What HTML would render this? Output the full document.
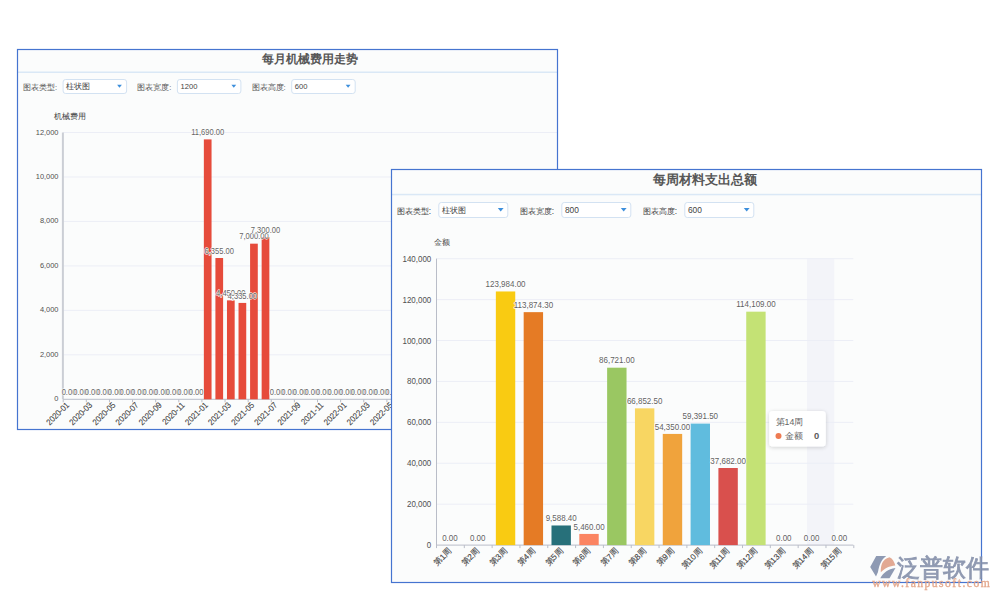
<!DOCTYPE html><html><head><meta charset="utf-8"><style>html,body{margin:0;padding:0;background:#fff;width:1000px;height:600px;overflow:hidden}svg{display:block}text{font-family:"Liberation Sans", sans-serif}.ax{stroke:#444;stroke-width:0.12px}</style></head><body>
<svg width="1000" height="600" viewBox="0 0 1000 600">
<defs><clipPath id="c1"><rect x="18" y="50" width="539" height="379"/></clipPath><clipPath id="c2"><rect x="392" y="170" width="589" height="412"/></clipPath><filter id="sh" x="-30%" y="-30%" width="160%" height="160%"><feGaussianBlur in="SourceAlpha" stdDeviation="2"/><feOffset dx="0" dy="1"/><feComponentTransfer><feFuncA type="linear" slope="0.18"/></feComponentTransfer><feMerge><feMergeNode/><feMergeNode in="SourceGraphic"/></feMerge></filter></defs>
<rect x="17.5" y="49.5" width="540" height="380" fill="#fbfcfc" stroke="none"/>
<g clip-path="url(#c1)">
<rect x="18" y="71.5" width="539" height="1.5" fill="#dae8f6"/>
<text x="310" y="63.3" font-size="12.2" font-weight="bold" fill="#575757" text-anchor="middle">每月机械费用走势</text>
<text x="23.0" y="89.8" font-size="7.6" fill="#555">图表类型:</text>
<rect x="63.1" y="79.5" width="63.5" height="14" rx="2.5" fill="#fff" stroke="#d3e2f2" stroke-width="1"/>
<text x="66.2" y="89.29" font-size="7.6" fill="#444">柱状图</text>
<path d="M117.10 84.80 L121.90 84.80 L119.50 87.80 Z" fill="#3d8fdc"/>
<text x="137.3" y="89.8" font-size="7.6" fill="#555">图表宽度:</text>
<rect x="177.4" y="79.5" width="63.5" height="14" rx="2.5" fill="#fff" stroke="#d3e2f2" stroke-width="1"/>
<text x="180.5" y="89.29" font-size="7.6" fill="#444">1200</text>
<path d="M231.40 84.80 L236.20 84.80 L233.80 87.80 Z" fill="#3d8fdc"/>
<text x="251.6" y="89.8" font-size="7.6" fill="#555">图表高度:</text>
<rect x="291.7" y="79.5" width="63.5" height="14" rx="2.5" fill="#fff" stroke="#d3e2f2" stroke-width="1"/>
<text x="294.8" y="89.29" font-size="7.6" fill="#444">600</text>
<path d="M345.70 84.80 L350.50 84.80 L348.10 87.80 Z" fill="#3d8fdc"/>
<text x="53.8" y="118.9" font-size="7.5" fill="#444">机械费用</text>
<text transform="translate(58.5,401.30) scale(0.92,1)" x="0" y="0" font-size="8.1" fill="#505050" text-anchor="end">0</text>
<line x1="63.2" y1="354.83" x2="557" y2="354.83" stroke="#eceef6" stroke-width="1"/>
<text transform="translate(58.5,356.83) scale(0.92,1)" x="0" y="0" font-size="8.1" fill="#505050" text-anchor="end">2,000</text>
<line x1="63.2" y1="310.37" x2="557" y2="310.37" stroke="#eceef6" stroke-width="1"/>
<text transform="translate(58.5,312.37) scale(0.92,1)" x="0" y="0" font-size="8.1" fill="#505050" text-anchor="end">4,000</text>
<line x1="63.2" y1="265.90" x2="557" y2="265.90" stroke="#eceef6" stroke-width="1"/>
<text transform="translate(58.5,267.90) scale(0.92,1)" x="0" y="0" font-size="8.1" fill="#505050" text-anchor="end">6,000</text>
<line x1="63.2" y1="221.43" x2="557" y2="221.43" stroke="#eceef6" stroke-width="1"/>
<text transform="translate(58.5,223.43) scale(0.92,1)" x="0" y="0" font-size="8.1" fill="#505050" text-anchor="end">8,000</text>
<line x1="63.2" y1="176.97" x2="557" y2="176.97" stroke="#eceef6" stroke-width="1"/>
<text transform="translate(58.5,178.97) scale(0.92,1)" x="0" y="0" font-size="8.1" fill="#505050" text-anchor="end">10,000</text>
<line x1="63.2" y1="132.50" x2="557" y2="132.50" stroke="#eceef6" stroke-width="1"/>
<text transform="translate(58.5,134.50) scale(0.92,1)" x="0" y="0" font-size="8.1" fill="#505050" text-anchor="end">12,000</text>
<line x1="62.9" y1="132.5" x2="62.9" y2="399.3" stroke="#cbced5" stroke-width="2"/>
<line x1="63.2" y1="399.3" x2="557" y2="399.3" stroke="#b9bdc8" stroke-width="1"/>
<line x1="63.20" y1="399.3" x2="63.20" y2="402.3" stroke="#b9bdc8" stroke-width="1"/>
<line x1="86.32" y1="399.3" x2="86.32" y2="402.3" stroke="#b9bdc8" stroke-width="1"/>
<line x1="109.44" y1="399.3" x2="109.44" y2="402.3" stroke="#b9bdc8" stroke-width="1"/>
<line x1="132.56" y1="399.3" x2="132.56" y2="402.3" stroke="#b9bdc8" stroke-width="1"/>
<line x1="155.68" y1="399.3" x2="155.68" y2="402.3" stroke="#b9bdc8" stroke-width="1"/>
<line x1="178.80" y1="399.3" x2="178.80" y2="402.3" stroke="#b9bdc8" stroke-width="1"/>
<line x1="201.92" y1="399.3" x2="201.92" y2="402.3" stroke="#b9bdc8" stroke-width="1"/>
<line x1="225.04" y1="399.3" x2="225.04" y2="402.3" stroke="#b9bdc8" stroke-width="1"/>
<line x1="248.16" y1="399.3" x2="248.16" y2="402.3" stroke="#b9bdc8" stroke-width="1"/>
<line x1="271.28" y1="399.3" x2="271.28" y2="402.3" stroke="#b9bdc8" stroke-width="1"/>
<line x1="294.40" y1="399.3" x2="294.40" y2="402.3" stroke="#b9bdc8" stroke-width="1"/>
<line x1="317.52" y1="399.3" x2="317.52" y2="402.3" stroke="#b9bdc8" stroke-width="1"/>
<line x1="340.64" y1="399.3" x2="340.64" y2="402.3" stroke="#b9bdc8" stroke-width="1"/>
<line x1="363.76" y1="399.3" x2="363.76" y2="402.3" stroke="#b9bdc8" stroke-width="1"/>
<line x1="386.88" y1="399.3" x2="386.88" y2="402.3" stroke="#b9bdc8" stroke-width="1"/>
<line x1="410.00" y1="399.3" x2="410.00" y2="402.3" stroke="#b9bdc8" stroke-width="1"/>
<line x1="433.12" y1="399.3" x2="433.12" y2="402.3" stroke="#b9bdc8" stroke-width="1"/>
<line x1="456.24" y1="399.3" x2="456.24" y2="402.3" stroke="#b9bdc8" stroke-width="1"/>
<line x1="479.36" y1="399.3" x2="479.36" y2="402.3" stroke="#b9bdc8" stroke-width="1"/>
<line x1="502.48" y1="399.3" x2="502.48" y2="402.3" stroke="#b9bdc8" stroke-width="1"/>
<line x1="525.60" y1="399.3" x2="525.60" y2="402.3" stroke="#b9bdc8" stroke-width="1"/>
<line x1="548.72" y1="399.3" x2="548.72" y2="402.3" stroke="#b9bdc8" stroke-width="1"/>
<rect x="203.85" y="139.39" width="7.7" height="259.91" fill="#e64b3b"/>
<rect x="215.41" y="258.01" width="7.7" height="141.29" fill="#e64b3b"/>
<rect x="226.97" y="300.36" width="7.7" height="98.94" fill="#e64b3b"/>
<rect x="238.53" y="302.92" width="7.7" height="96.38" fill="#e64b3b"/>
<rect x="250.09" y="243.67" width="7.7" height="155.63" fill="#e64b3b"/>
<rect x="261.65" y="237.00" width="7.7" height="162.30" fill="#e64b3b"/>
<text transform="translate(68.98,394.90) scale(0.9,1)" x="0" y="0" font-size="8.4" fill="#666" text-anchor="middle" stroke="rgba(255,255,255,0.85)" stroke-width="1.4" stroke-linejoin="round" paint-order="stroke">0.00</text>
<text transform="translate(80.54,394.90) scale(0.9,1)" x="0" y="0" font-size="8.4" fill="#666" text-anchor="middle" stroke="rgba(255,255,255,0.85)" stroke-width="1.4" stroke-linejoin="round" paint-order="stroke">0.00</text>
<text transform="translate(92.10,394.90) scale(0.9,1)" x="0" y="0" font-size="8.4" fill="#666" text-anchor="middle" stroke="rgba(255,255,255,0.85)" stroke-width="1.4" stroke-linejoin="round" paint-order="stroke">0.00</text>
<text transform="translate(103.66,394.90) scale(0.9,1)" x="0" y="0" font-size="8.4" fill="#666" text-anchor="middle" stroke="rgba(255,255,255,0.85)" stroke-width="1.4" stroke-linejoin="round" paint-order="stroke">0.00</text>
<text transform="translate(115.22,394.90) scale(0.9,1)" x="0" y="0" font-size="8.4" fill="#666" text-anchor="middle" stroke="rgba(255,255,255,0.85)" stroke-width="1.4" stroke-linejoin="round" paint-order="stroke">0.00</text>
<text transform="translate(126.78,394.90) scale(0.9,1)" x="0" y="0" font-size="8.4" fill="#666" text-anchor="middle" stroke="rgba(255,255,255,0.85)" stroke-width="1.4" stroke-linejoin="round" paint-order="stroke">0.00</text>
<text transform="translate(138.34,394.90) scale(0.9,1)" x="0" y="0" font-size="8.4" fill="#666" text-anchor="middle" stroke="rgba(255,255,255,0.85)" stroke-width="1.4" stroke-linejoin="round" paint-order="stroke">0.00</text>
<text transform="translate(149.90,394.90) scale(0.9,1)" x="0" y="0" font-size="8.4" fill="#666" text-anchor="middle" stroke="rgba(255,255,255,0.85)" stroke-width="1.4" stroke-linejoin="round" paint-order="stroke">0.00</text>
<text transform="translate(161.46,394.90) scale(0.9,1)" x="0" y="0" font-size="8.4" fill="#666" text-anchor="middle" stroke="rgba(255,255,255,0.85)" stroke-width="1.4" stroke-linejoin="round" paint-order="stroke">0.00</text>
<text transform="translate(173.02,394.90) scale(0.9,1)" x="0" y="0" font-size="8.4" fill="#666" text-anchor="middle" stroke="rgba(255,255,255,0.85)" stroke-width="1.4" stroke-linejoin="round" paint-order="stroke">0.00</text>
<text transform="translate(184.58,394.90) scale(0.9,1)" x="0" y="0" font-size="8.4" fill="#666" text-anchor="middle" stroke="rgba(255,255,255,0.85)" stroke-width="1.4" stroke-linejoin="round" paint-order="stroke">0.00</text>
<text transform="translate(196.14,394.90) scale(0.9,1)" x="0" y="0" font-size="8.4" fill="#666" text-anchor="middle" stroke="rgba(255,255,255,0.85)" stroke-width="1.4" stroke-linejoin="round" paint-order="stroke">0.00</text>
<text transform="translate(207.70,134.99) scale(0.9,1)" x="0" y="0" font-size="8.4" fill="#666" text-anchor="middle" stroke="rgba(255,255,255,0.85)" stroke-width="1.4" stroke-linejoin="round" paint-order="stroke">11,690.00</text>
<text transform="translate(219.26,253.61) scale(0.9,1)" x="0" y="0" font-size="8.4" fill="#666" text-anchor="middle" stroke="rgba(255,255,255,0.85)" stroke-width="1.4" stroke-linejoin="round" paint-order="stroke">6,355.00</text>
<text transform="translate(230.82,295.96) scale(0.9,1)" x="0" y="0" font-size="8.4" fill="#666" text-anchor="middle" stroke="rgba(255,255,255,0.85)" stroke-width="1.4" stroke-linejoin="round" paint-order="stroke">4,450.00</text>
<text transform="translate(242.38,298.52) scale(0.9,1)" x="0" y="0" font-size="8.4" fill="#666" text-anchor="middle" stroke="rgba(255,255,255,0.85)" stroke-width="1.4" stroke-linejoin="round" paint-order="stroke">4,335.00</text>
<text transform="translate(253.94,239.27) scale(0.9,1)" x="0" y="0" font-size="8.4" fill="#666" text-anchor="middle" stroke="rgba(255,255,255,0.85)" stroke-width="1.4" stroke-linejoin="round" paint-order="stroke">7,000.00</text>
<text transform="translate(265.50,232.60) scale(0.9,1)" x="0" y="0" font-size="8.4" fill="#666" text-anchor="middle" stroke="rgba(255,255,255,0.85)" stroke-width="1.4" stroke-linejoin="round" paint-order="stroke">7,300.00</text>
<text transform="translate(277.06,394.90) scale(0.9,1)" x="0" y="0" font-size="8.4" fill="#666" text-anchor="middle" stroke="rgba(255,255,255,0.85)" stroke-width="1.4" stroke-linejoin="round" paint-order="stroke">0.00</text>
<text transform="translate(288.62,394.90) scale(0.9,1)" x="0" y="0" font-size="8.4" fill="#666" text-anchor="middle" stroke="rgba(255,255,255,0.85)" stroke-width="1.4" stroke-linejoin="round" paint-order="stroke">0.00</text>
<text transform="translate(300.18,394.90) scale(0.9,1)" x="0" y="0" font-size="8.4" fill="#666" text-anchor="middle" stroke="rgba(255,255,255,0.85)" stroke-width="1.4" stroke-linejoin="round" paint-order="stroke">0.00</text>
<text transform="translate(311.74,394.90) scale(0.9,1)" x="0" y="0" font-size="8.4" fill="#666" text-anchor="middle" stroke="rgba(255,255,255,0.85)" stroke-width="1.4" stroke-linejoin="round" paint-order="stroke">0.00</text>
<text transform="translate(323.30,394.90) scale(0.9,1)" x="0" y="0" font-size="8.4" fill="#666" text-anchor="middle" stroke="rgba(255,255,255,0.85)" stroke-width="1.4" stroke-linejoin="round" paint-order="stroke">0.00</text>
<text transform="translate(334.86,394.90) scale(0.9,1)" x="0" y="0" font-size="8.4" fill="#666" text-anchor="middle" stroke="rgba(255,255,255,0.85)" stroke-width="1.4" stroke-linejoin="round" paint-order="stroke">0.00</text>
<text transform="translate(346.42,394.90) scale(0.9,1)" x="0" y="0" font-size="8.4" fill="#666" text-anchor="middle" stroke="rgba(255,255,255,0.85)" stroke-width="1.4" stroke-linejoin="round" paint-order="stroke">0.00</text>
<text transform="translate(357.98,394.90) scale(0.9,1)" x="0" y="0" font-size="8.4" fill="#666" text-anchor="middle" stroke="rgba(255,255,255,0.85)" stroke-width="1.4" stroke-linejoin="round" paint-order="stroke">0.00</text>
<text transform="translate(369.54,394.90) scale(0.9,1)" x="0" y="0" font-size="8.4" fill="#666" text-anchor="middle" stroke="rgba(255,255,255,0.85)" stroke-width="1.4" stroke-linejoin="round" paint-order="stroke">0.00</text>
<text transform="translate(381.10,394.90) scale(0.9,1)" x="0" y="0" font-size="8.4" fill="#666" text-anchor="middle" stroke="rgba(255,255,255,0.85)" stroke-width="1.4" stroke-linejoin="round" paint-order="stroke">0.00</text>
<text transform="translate(392.66,394.90) scale(0.9,1)" x="0" y="0" font-size="8.4" fill="#666" text-anchor="middle" stroke="rgba(255,255,255,0.85)" stroke-width="1.4" stroke-linejoin="round" paint-order="stroke">0.00</text>
<text transform="translate(404.22,394.90) scale(0.9,1)" x="0" y="0" font-size="8.4" fill="#666" text-anchor="middle" stroke="rgba(255,255,255,0.85)" stroke-width="1.4" stroke-linejoin="round" paint-order="stroke">0.00</text>
<text transform="translate(415.78,394.90) scale(0.9,1)" x="0" y="0" font-size="8.4" fill="#666" text-anchor="middle" stroke="rgba(255,255,255,0.85)" stroke-width="1.4" stroke-linejoin="round" paint-order="stroke">0.00</text>
<text transform="translate(427.34,394.90) scale(0.9,1)" x="0" y="0" font-size="8.4" fill="#666" text-anchor="middle" stroke="rgba(255,255,255,0.85)" stroke-width="1.4" stroke-linejoin="round" paint-order="stroke">0.00</text>
<text transform="translate(438.90,394.90) scale(0.9,1)" x="0" y="0" font-size="8.4" fill="#666" text-anchor="middle" stroke="rgba(255,255,255,0.85)" stroke-width="1.4" stroke-linejoin="round" paint-order="stroke">0.00</text>
<text transform="translate(450.46,394.90) scale(0.9,1)" x="0" y="0" font-size="8.4" fill="#666" text-anchor="middle" stroke="rgba(255,255,255,0.85)" stroke-width="1.4" stroke-linejoin="round" paint-order="stroke">0.00</text>
<text transform="translate(462.02,394.90) scale(0.9,1)" x="0" y="0" font-size="8.4" fill="#666" text-anchor="middle" stroke="rgba(255,255,255,0.85)" stroke-width="1.4" stroke-linejoin="round" paint-order="stroke">0.00</text>
<text transform="translate(473.58,394.90) scale(0.9,1)" x="0" y="0" font-size="8.4" fill="#666" text-anchor="middle" stroke="rgba(255,255,255,0.85)" stroke-width="1.4" stroke-linejoin="round" paint-order="stroke">0.00</text>
<text transform="translate(485.14,394.90) scale(0.9,1)" x="0" y="0" font-size="8.4" fill="#666" text-anchor="middle" stroke="rgba(255,255,255,0.85)" stroke-width="1.4" stroke-linejoin="round" paint-order="stroke">0.00</text>
<text transform="translate(496.70,394.90) scale(0.9,1)" x="0" y="0" font-size="8.4" fill="#666" text-anchor="middle" stroke="rgba(255,255,255,0.85)" stroke-width="1.4" stroke-linejoin="round" paint-order="stroke">0.00</text>
<text transform="translate(508.26,394.90) scale(0.9,1)" x="0" y="0" font-size="8.4" fill="#666" text-anchor="middle" stroke="rgba(255,255,255,0.85)" stroke-width="1.4" stroke-linejoin="round" paint-order="stroke">0.00</text>
<text transform="translate(519.82,394.90) scale(0.9,1)" x="0" y="0" font-size="8.4" fill="#666" text-anchor="middle" stroke="rgba(255,255,255,0.85)" stroke-width="1.4" stroke-linejoin="round" paint-order="stroke">0.00</text>
<text transform="translate(531.38,394.90) scale(0.9,1)" x="0" y="0" font-size="8.4" fill="#666" text-anchor="middle" stroke="rgba(255,255,255,0.85)" stroke-width="1.4" stroke-linejoin="round" paint-order="stroke">0.00</text>
<text transform="translate(542.94,394.90) scale(0.9,1)" x="0" y="0" font-size="8.4" fill="#666" text-anchor="middle" stroke="rgba(255,255,255,0.85)" stroke-width="1.4" stroke-linejoin="round" paint-order="stroke">0.00</text>
<text transform="translate(554.50,394.90) scale(0.9,1)" x="0" y="0" font-size="8.4" fill="#666" text-anchor="middle" stroke="rgba(255,255,255,0.85)" stroke-width="1.4" stroke-linejoin="round" paint-order="stroke">0.00</text>
<text transform="translate(566.06,394.90) scale(0.9,1)" x="0" y="0" font-size="8.4" fill="#666" text-anchor="middle" stroke="rgba(255,255,255,0.85)" stroke-width="1.4" stroke-linejoin="round" paint-order="stroke">0.00</text>
<text transform="translate(67.78,403.60) rotate(-45) scale(0.9,1)" x="0" y="2.8" font-size="8.6" fill="#444" class="ax" text-anchor="end">2020-01</text>
<text transform="translate(90.90,403.60) rotate(-45) scale(0.9,1)" x="0" y="2.8" font-size="8.6" fill="#444" class="ax" text-anchor="end">2020-03</text>
<text transform="translate(114.02,403.60) rotate(-45) scale(0.9,1)" x="0" y="2.8" font-size="8.6" fill="#444" class="ax" text-anchor="end">2020-05</text>
<text transform="translate(137.14,403.60) rotate(-45) scale(0.9,1)" x="0" y="2.8" font-size="8.6" fill="#444" class="ax" text-anchor="end">2020-07</text>
<text transform="translate(160.26,403.60) rotate(-45) scale(0.9,1)" x="0" y="2.8" font-size="8.6" fill="#444" class="ax" text-anchor="end">2020-09</text>
<text transform="translate(183.38,403.60) rotate(-45) scale(0.9,1)" x="0" y="2.8" font-size="8.6" fill="#444" class="ax" text-anchor="end">2020-11</text>
<text transform="translate(206.50,403.60) rotate(-45) scale(0.9,1)" x="0" y="2.8" font-size="8.6" fill="#444" class="ax" text-anchor="end">2021-01</text>
<text transform="translate(229.62,403.60) rotate(-45) scale(0.9,1)" x="0" y="2.8" font-size="8.6" fill="#444" class="ax" text-anchor="end">2021-03</text>
<text transform="translate(252.74,403.60) rotate(-45) scale(0.9,1)" x="0" y="2.8" font-size="8.6" fill="#444" class="ax" text-anchor="end">2021-05</text>
<text transform="translate(275.86,403.60) rotate(-45) scale(0.9,1)" x="0" y="2.8" font-size="8.6" fill="#444" class="ax" text-anchor="end">2021-07</text>
<text transform="translate(298.98,403.60) rotate(-45) scale(0.9,1)" x="0" y="2.8" font-size="8.6" fill="#444" class="ax" text-anchor="end">2021-09</text>
<text transform="translate(322.10,403.60) rotate(-45) scale(0.9,1)" x="0" y="2.8" font-size="8.6" fill="#444" class="ax" text-anchor="end">2021-11</text>
<text transform="translate(345.22,403.60) rotate(-45) scale(0.9,1)" x="0" y="2.8" font-size="8.6" fill="#444" class="ax" text-anchor="end">2022-01</text>
<text transform="translate(368.34,403.60) rotate(-45) scale(0.9,1)" x="0" y="2.8" font-size="8.6" fill="#444" class="ax" text-anchor="end">2022-03</text>
<text transform="translate(391.46,403.60) rotate(-45) scale(0.9,1)" x="0" y="2.8" font-size="8.6" fill="#444" class="ax" text-anchor="end">2022-05</text>
<text transform="translate(414.58,403.60) rotate(-45) scale(0.9,1)" x="0" y="2.8" font-size="8.6" fill="#444" class="ax" text-anchor="end">2022-07</text>
<text transform="translate(437.70,403.60) rotate(-45) scale(0.9,1)" x="0" y="2.8" font-size="8.6" fill="#444" class="ax" text-anchor="end">2022-09</text>
<text transform="translate(460.82,403.60) rotate(-45) scale(0.9,1)" x="0" y="2.8" font-size="8.6" fill="#444" class="ax" text-anchor="end">2022-11</text>
<text transform="translate(483.94,403.60) rotate(-45) scale(0.9,1)" x="0" y="2.8" font-size="8.6" fill="#444" class="ax" text-anchor="end">2023-01</text>
<text transform="translate(507.06,403.60) rotate(-45) scale(0.9,1)" x="0" y="2.8" font-size="8.6" fill="#444" class="ax" text-anchor="end">2023-03</text>
<text transform="translate(530.18,403.60) rotate(-45) scale(0.9,1)" x="0" y="2.8" font-size="8.6" fill="#444" class="ax" text-anchor="end">2023-05</text>
<text transform="translate(553.30,403.60) rotate(-45) scale(0.9,1)" x="0" y="2.8" font-size="8.6" fill="#444" class="ax" text-anchor="end">2023-07</text>
</g>
<rect x="17.5" y="49.5" width="540" height="380" fill="none" stroke="#4574d0" stroke-width="1.2"/>
<rect x="391.5" y="169.5" width="590" height="413" fill="#fbfcfc" stroke="none"/>
<g clip-path="url(#c2)">
<rect x="392" y="193.8" width="589" height="1.5" fill="#dae8f6"/>
<text x="705" y="184.2" font-size="13.3" font-weight="bold" fill="#575757" text-anchor="middle">每周材料支出总额</text>
<text x="396.7" y="213.8" font-size="8.4" fill="#444">图表类型:</text>
<rect x="438.8" y="202.5" width="69" height="15" rx="2.5" fill="#fff" stroke="#d3e2f2" stroke-width="1"/>
<text x="441.90000000000003" y="213.09" font-size="8.4" fill="#444">柱状图</text>
<path d="M497.80 208.00 L503.60 208.00 L500.70 211.60 Z" fill="#3d8fdc"/>
<text x="519.7" y="213.8" font-size="8.4" fill="#444">图表宽度:</text>
<rect x="561.8" y="202.5" width="69" height="15" rx="2.5" fill="#fff" stroke="#d3e2f2" stroke-width="1"/>
<text x="564.9" y="213.09" font-size="8.4" fill="#444">800</text>
<path d="M620.80 208.00 L626.60 208.00 L623.70 211.60 Z" fill="#3d8fdc"/>
<text x="642.7" y="213.8" font-size="8.4" fill="#444">图表高度:</text>
<rect x="684.8" y="202.5" width="69" height="15" rx="2.5" fill="#fff" stroke="#d3e2f2" stroke-width="1"/>
<text x="687.9" y="213.09" font-size="8.4" fill="#444">600</text>
<path d="M743.80 208.00 L749.60 208.00 L746.70 211.60 Z" fill="#3d8fdc"/>
<text x="434.4" y="244.5" font-size="7.9" fill="#444">金额</text>
<rect x="807" y="258.7" width="27.3" height="286.40" fill="#f3f4f9"/>
<text transform="translate(431.3,548.10) scale(0.95,1)" x="0" y="0" font-size="8.4" fill="#505050" text-anchor="end">0</text>
<line x1="436.0" y1="504.19" x2="853.30" y2="504.19" stroke="#eceef6" stroke-width="1"/>
<text transform="translate(431.3,507.19) scale(0.95,1)" x="0" y="0" font-size="8.4" fill="#505050" text-anchor="end">20,000</text>
<line x1="436.0" y1="463.27" x2="853.30" y2="463.27" stroke="#eceef6" stroke-width="1"/>
<text transform="translate(431.3,466.27) scale(0.95,1)" x="0" y="0" font-size="8.4" fill="#505050" text-anchor="end">40,000</text>
<line x1="436.0" y1="422.36" x2="853.30" y2="422.36" stroke="#eceef6" stroke-width="1"/>
<text transform="translate(431.3,425.36) scale(0.95,1)" x="0" y="0" font-size="8.4" fill="#505050" text-anchor="end">60,000</text>
<line x1="436.0" y1="381.44" x2="853.30" y2="381.44" stroke="#eceef6" stroke-width="1"/>
<text transform="translate(431.3,384.44) scale(0.95,1)" x="0" y="0" font-size="8.4" fill="#505050" text-anchor="end">80,000</text>
<line x1="436.0" y1="340.53" x2="853.30" y2="340.53" stroke="#eceef6" stroke-width="1"/>
<text transform="translate(431.3,343.53) scale(0.95,1)" x="0" y="0" font-size="8.4" fill="#505050" text-anchor="end">100,000</text>
<line x1="436.0" y1="299.61" x2="853.30" y2="299.61" stroke="#eceef6" stroke-width="1"/>
<text transform="translate(431.3,302.61) scale(0.95,1)" x="0" y="0" font-size="8.4" fill="#505050" text-anchor="end">120,000</text>
<line x1="436.0" y1="258.70" x2="853.30" y2="258.70" stroke="#eceef6" stroke-width="1"/>
<text transform="translate(431.3,261.70) scale(0.95,1)" x="0" y="0" font-size="8.4" fill="#505050" text-anchor="end">140,000</text>
<line x1="436.5" y1="258.7" x2="436.5" y2="545.1" stroke="#b9bdc8" stroke-width="1"/>
<line x1="436.0" y1="545.1" x2="853.30" y2="545.1" stroke="#b9bdc8" stroke-width="1"/>
<line x1="436.50" y1="545.1" x2="436.50" y2="548.1" stroke="#b9bdc8" stroke-width="1"/>
<line x1="464.32" y1="545.1" x2="464.32" y2="548.1" stroke="#b9bdc8" stroke-width="1"/>
<line x1="492.14" y1="545.1" x2="492.14" y2="548.1" stroke="#b9bdc8" stroke-width="1"/>
<line x1="519.96" y1="545.1" x2="519.96" y2="548.1" stroke="#b9bdc8" stroke-width="1"/>
<line x1="547.78" y1="545.1" x2="547.78" y2="548.1" stroke="#b9bdc8" stroke-width="1"/>
<line x1="575.60" y1="545.1" x2="575.60" y2="548.1" stroke="#b9bdc8" stroke-width="1"/>
<line x1="603.42" y1="545.1" x2="603.42" y2="548.1" stroke="#b9bdc8" stroke-width="1"/>
<line x1="631.24" y1="545.1" x2="631.24" y2="548.1" stroke="#b9bdc8" stroke-width="1"/>
<line x1="659.06" y1="545.1" x2="659.06" y2="548.1" stroke="#b9bdc8" stroke-width="1"/>
<line x1="686.88" y1="545.1" x2="686.88" y2="548.1" stroke="#b9bdc8" stroke-width="1"/>
<line x1="714.70" y1="545.1" x2="714.70" y2="548.1" stroke="#b9bdc8" stroke-width="1"/>
<line x1="742.52" y1="545.1" x2="742.52" y2="548.1" stroke="#b9bdc8" stroke-width="1"/>
<line x1="770.34" y1="545.1" x2="770.34" y2="548.1" stroke="#b9bdc8" stroke-width="1"/>
<line x1="798.16" y1="545.1" x2="798.16" y2="548.1" stroke="#b9bdc8" stroke-width="1"/>
<line x1="825.98" y1="545.1" x2="825.98" y2="548.1" stroke="#b9bdc8" stroke-width="1"/>
<line x1="853.80" y1="545.1" x2="853.80" y2="548.1" stroke="#b9bdc8" stroke-width="1"/>
<rect x="495.85" y="291.46" width="19.4" height="253.64" fill="#f9cb12"/>
<rect x="523.67" y="312.15" width="19.4" height="232.95" fill="#e57b25"/>
<rect x="551.49" y="525.48" width="19.4" height="19.62" fill="#27707a"/>
<rect x="579.31" y="533.93" width="19.4" height="11.17" fill="#fb8462"/>
<rect x="607.13" y="367.69" width="19.4" height="177.41" fill="#9ac762"/>
<rect x="634.95" y="408.34" width="19.4" height="136.76" fill="#f8d662"/>
<rect x="662.77" y="433.92" width="19.4" height="111.18" fill="#f0a33c"/>
<rect x="690.59" y="423.60" width="19.4" height="121.50" fill="#60bcde"/>
<rect x="718.41" y="468.01" width="19.4" height="77.09" fill="#d9504d"/>
<rect x="746.23" y="311.67" width="19.4" height="233.43" fill="#c4e275"/>
<text transform="translate(449.91,540.90) scale(0.93,1)" x="0" y="0" font-size="8.6" fill="#626262" text-anchor="middle" stroke="rgba(255,255,255,0.85)" stroke-width="1.4" stroke-linejoin="round" paint-order="stroke">0.00</text>
<text transform="translate(477.73,540.90) scale(0.93,1)" x="0" y="0" font-size="8.6" fill="#626262" text-anchor="middle" stroke="rgba(255,255,255,0.85)" stroke-width="1.4" stroke-linejoin="round" paint-order="stroke">0.00</text>
<text transform="translate(505.55,287.26) scale(0.93,1)" x="0" y="0" font-size="8.6" fill="#626262" text-anchor="middle" stroke="rgba(255,255,255,0.85)" stroke-width="1.4" stroke-linejoin="round" paint-order="stroke">123,984.00</text>
<text transform="translate(533.37,307.95) scale(0.93,1)" x="0" y="0" font-size="8.6" fill="#626262" text-anchor="middle" stroke="rgba(255,255,255,0.85)" stroke-width="1.4" stroke-linejoin="round" paint-order="stroke">113,874.30</text>
<text transform="translate(561.19,521.28) scale(0.93,1)" x="0" y="0" font-size="8.6" fill="#626262" text-anchor="middle" stroke="rgba(255,255,255,0.85)" stroke-width="1.4" stroke-linejoin="round" paint-order="stroke">9,588.40</text>
<text transform="translate(589.01,529.73) scale(0.93,1)" x="0" y="0" font-size="8.6" fill="#626262" text-anchor="middle" stroke="rgba(255,255,255,0.85)" stroke-width="1.4" stroke-linejoin="round" paint-order="stroke">5,460.00</text>
<text transform="translate(616.83,363.49) scale(0.93,1)" x="0" y="0" font-size="8.6" fill="#626262" text-anchor="middle" stroke="rgba(255,255,255,0.85)" stroke-width="1.4" stroke-linejoin="round" paint-order="stroke">86,721.00</text>
<text transform="translate(644.65,404.14) scale(0.93,1)" x="0" y="0" font-size="8.6" fill="#626262" text-anchor="middle" stroke="rgba(255,255,255,0.85)" stroke-width="1.4" stroke-linejoin="round" paint-order="stroke">66,852.50</text>
<text transform="translate(672.47,429.72) scale(0.93,1)" x="0" y="0" font-size="8.6" fill="#626262" text-anchor="middle" stroke="rgba(255,255,255,0.85)" stroke-width="1.4" stroke-linejoin="round" paint-order="stroke">54,350.00</text>
<text transform="translate(700.29,419.40) scale(0.93,1)" x="0" y="0" font-size="8.6" fill="#626262" text-anchor="middle" stroke="rgba(255,255,255,0.85)" stroke-width="1.4" stroke-linejoin="round" paint-order="stroke">59,391.50</text>
<text transform="translate(728.11,463.81) scale(0.93,1)" x="0" y="0" font-size="8.6" fill="#626262" text-anchor="middle" stroke="rgba(255,255,255,0.85)" stroke-width="1.4" stroke-linejoin="round" paint-order="stroke">37,682.00</text>
<text transform="translate(755.93,307.47) scale(0.93,1)" x="0" y="0" font-size="8.6" fill="#626262" text-anchor="middle" stroke="rgba(255,255,255,0.85)" stroke-width="1.4" stroke-linejoin="round" paint-order="stroke">114,109.00</text>
<text transform="translate(783.75,540.90) scale(0.93,1)" x="0" y="0" font-size="8.6" fill="#626262" text-anchor="middle" stroke="rgba(255,255,255,0.85)" stroke-width="1.4" stroke-linejoin="round" paint-order="stroke">0.00</text>
<text transform="translate(811.57,540.90) scale(0.93,1)" x="0" y="0" font-size="8.6" fill="#626262" text-anchor="middle" stroke="rgba(255,255,255,0.85)" stroke-width="1.4" stroke-linejoin="round" paint-order="stroke">0.00</text>
<text transform="translate(839.39,540.90) scale(0.93,1)" x="0" y="0" font-size="8.6" fill="#626262" text-anchor="middle" stroke="rgba(255,255,255,0.85)" stroke-width="1.4" stroke-linejoin="round" paint-order="stroke">0.00</text>
<text transform="translate(449.91,549.60) rotate(-45)" x="0" y="2.9" font-size="8.3" fill="#444" class="ax" text-anchor="end">第1周</text>
<text transform="translate(477.73,549.60) rotate(-45)" x="0" y="2.9" font-size="8.3" fill="#444" class="ax" text-anchor="end">第2周</text>
<text transform="translate(505.55,549.60) rotate(-45)" x="0" y="2.9" font-size="8.3" fill="#444" class="ax" text-anchor="end">第3周</text>
<text transform="translate(533.37,549.60) rotate(-45)" x="0" y="2.9" font-size="8.3" fill="#444" class="ax" text-anchor="end">第4周</text>
<text transform="translate(561.19,549.60) rotate(-45)" x="0" y="2.9" font-size="8.3" fill="#444" class="ax" text-anchor="end">第5周</text>
<text transform="translate(589.01,549.60) rotate(-45)" x="0" y="2.9" font-size="8.3" fill="#444" class="ax" text-anchor="end">第6周</text>
<text transform="translate(616.83,549.60) rotate(-45)" x="0" y="2.9" font-size="8.3" fill="#444" class="ax" text-anchor="end">第7周</text>
<text transform="translate(644.65,549.60) rotate(-45)" x="0" y="2.9" font-size="8.3" fill="#444" class="ax" text-anchor="end">第8周</text>
<text transform="translate(672.47,549.60) rotate(-45)" x="0" y="2.9" font-size="8.3" fill="#444" class="ax" text-anchor="end">第9周</text>
<text transform="translate(700.29,549.60) rotate(-45)" x="0" y="2.9" font-size="8.3" fill="#444" class="ax" text-anchor="end">第10周</text>
<text transform="translate(728.11,549.60) rotate(-45)" x="0" y="2.9" font-size="8.3" fill="#444" class="ax" text-anchor="end">第11周</text>
<text transform="translate(755.93,549.60) rotate(-45)" x="0" y="2.9" font-size="8.3" fill="#444" class="ax" text-anchor="end">第12周</text>
<text transform="translate(783.75,549.60) rotate(-45)" x="0" y="2.9" font-size="8.3" fill="#444" class="ax" text-anchor="end">第13周</text>
<text transform="translate(811.57,549.60) rotate(-45)" x="0" y="2.9" font-size="8.3" fill="#444" class="ax" text-anchor="end">第14周</text>
<text transform="translate(839.39,549.60) rotate(-45)" x="0" y="2.9" font-size="8.3" fill="#444" class="ax" text-anchor="end">第15周</text>
<g filter="url(#sh)"><rect x="769.2" y="411" width="56.6" height="35.5" rx="3.5" fill="#fff"/></g>
<text x="775.5" y="424.6" font-size="8.8" fill="#666">第14周</text>
<circle cx="778.5" cy="436" r="3" fill="#ee7b52"/>
<text x="784.8" y="439.4" font-size="9" fill="#666">金额</text>
<text x="819.2" y="439.3" font-size="9.4" font-weight="bold" fill="#5c5c5c" text-anchor="end">0</text>
</g>
<rect x="391.5" y="169.5" width="590" height="413" fill="none" stroke="#4574d0" stroke-width="1.2"/>
<g opacity="0.92">
<path d="M876.2 556 L886.2 556 C881.3 559.5 879.2 565 878 572 L876 576.6 L870.2 567 Z" fill="#8592ad"/>
<path d="M880.8 572.3 C880.6 566 882 559 889.5 557.2 C892.5 558.5 894.5 562 895.3 565.5 C889.5 565.8 884.5 568.5 880.8 572.3 Z" fill="#e0a38b"/>
<path d="M880.3 578.3 C883 573 888 569 895.5 568 L889.5 578.3 Z" fill="#8592ad"/>
<text x="897" y="575.6" font-size="24" fill="#8691ab" stroke="#8691ab" stroke-width="0.9" textLength="92.2" lengthAdjust="spacingAndGlyphs">泛普软件</text>
<text x="872.2" y="587.4" style="font-family:'Liberation Serif', serif" font-size="11.6" fill="#e2a285" stroke="#e2a285" stroke-width="0.35" textLength="117.5" lengthAdjust="spacing">www.fanpusoft.com</text>
</g>
</svg></body></html>
